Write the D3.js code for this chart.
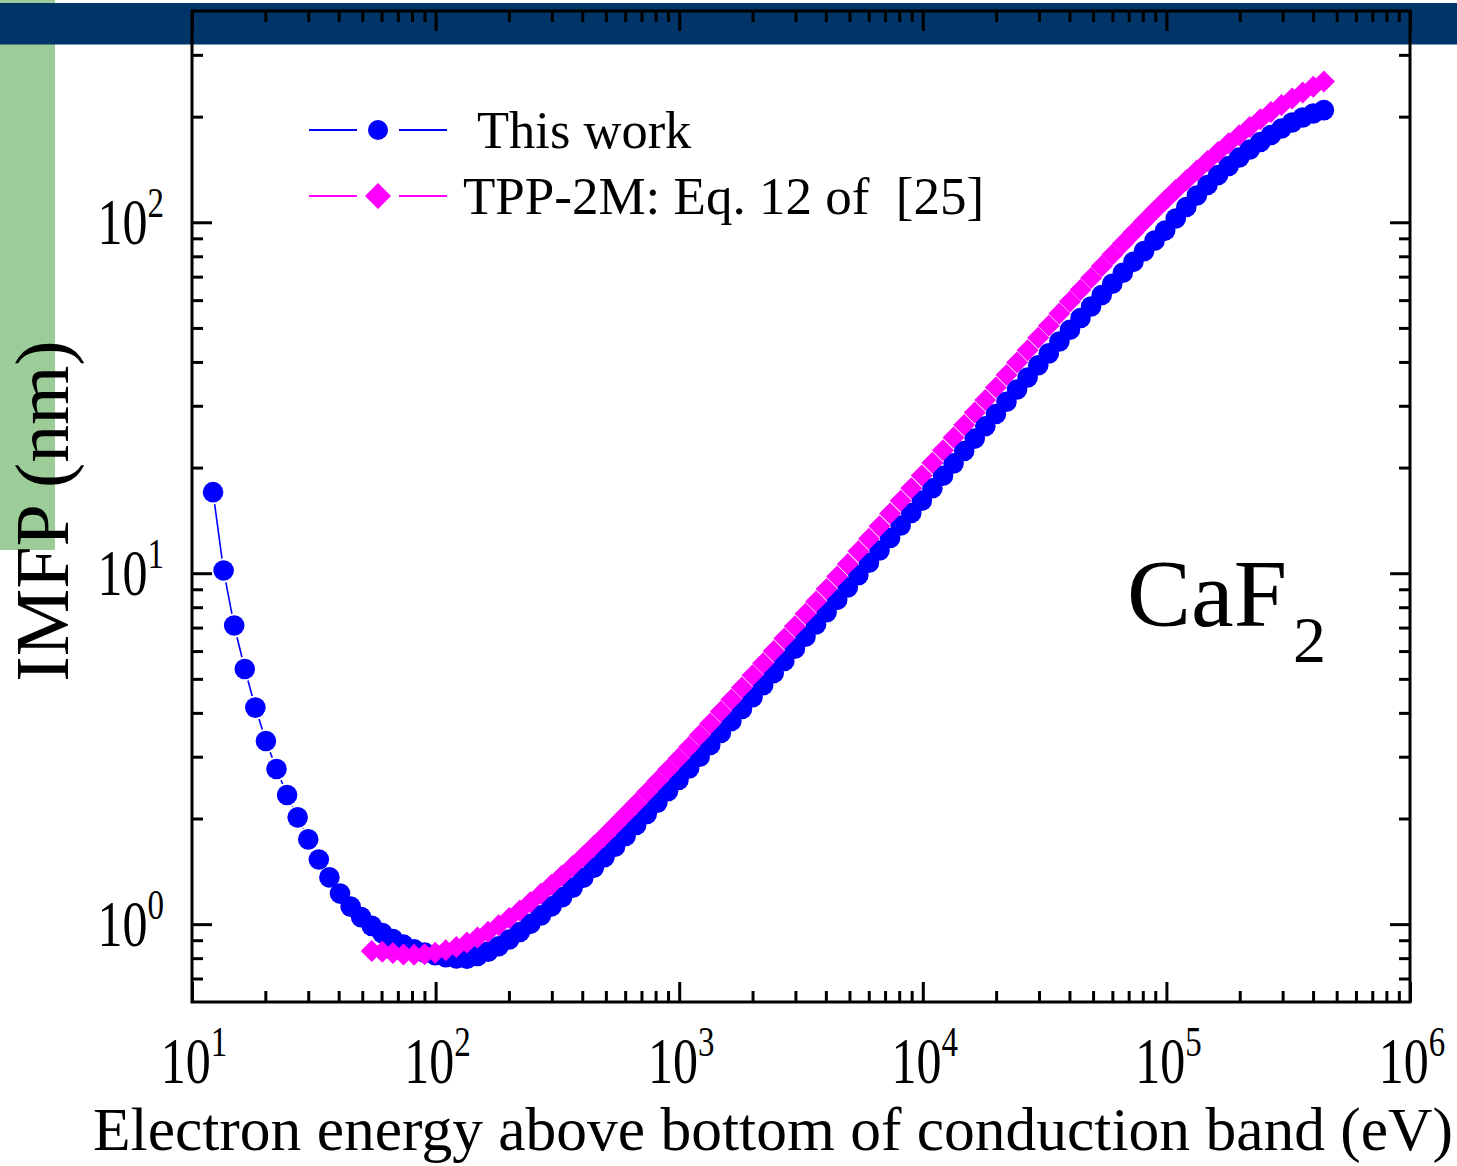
<!DOCTYPE html>
<html><head><meta charset="utf-8">
<script src="https://cdn.jsdelivr.net/npm/d3@7"></script>
<style>
body{margin:0;background:#fff}
svg{display:block}
text{font-family:"Liberation Serif","Times New Roman",serif;fill:#000}
</style>
</head><body>
<svg id="c" width="1457" height="1166"></svg>
<script>
// Electron energies (eV) of the plotted points
const energies = [12.2, 13.48, 14.9, 16.47, 18.2, 20.11, 22.23, 24.57, 27.15, 30.01,
 33.16, 36.65, 40.51, 44.77, 49.47, 54.68, 60.43, 66.78, 73.8, 81.56,
 90.15, 99.63, 110.1, 121.7, 134.5, 148.6, 164.2, 181.5, 200.6, 221.7,
 245, 270.8, 299.3, 330.7, 365.5, 404, 446.5, 493.4, 545.3, 602.7,
 666.1, 736.1, 813.5, 899.1, 993.6, 1098, 1214, 1341, 1482, 1638,
 1810, 2001, 2211, 2444, 2701, 2985, 3299, 3646, 4029, 4453,
 4921, 5439, 6011, 6643, 7342, 8114, 8967, 9910, 10952, 12104,
 13377, 14784, 16339, 18057, 19956, 22055, 24375, 26938, 29771, 32902,
 36363, 40187, 44413, 49084, 54246, 59951, 66256, 73224, 80925, 89436,
 98842, 109237, 120726, 133422, 147454, 162962, 180101, 199042, 219975, 243110,
 268677, 296934, 328163, 362676, 400818, 442972];

// IMFP (nm), "This work"
const thisWork = [17.02, 10.18, 7.093, 5.336, 4.140, 3.326, 2.767, 2.333, 2.015, 1.744,
 1.529, 1.359, 1.222, 1.122, 1.047, 0.9889, 0.9426, 0.9063, 0.8740, 0.8485,
 0.8294, 0.8159, 0.8052, 0.7984, 0.7973, 0.8112, 0.8348, 0.8651, 0.9039, 0.9500,
 1.002, 1.059, 1.124, 1.194, 1.271, 1.356, 1.449, 1.551, 1.663, 1.784,
 1.917, 2.062, 2.220, 2.392, 2.575, 2.778, 3.001, 3.241, 3.504, 3.790,
 4.102, 4.436, 4.798, 5.193, 5.622, 6.089, 6.596, 7.147, 7.746, 8.397,
 9.103, 9.877, 10.71, 11.61, 12.60, 13.67, 14.84, 16.10, 17.47, 18.95,
 20.56, 22.30, 24.19, 26.22, 28.43, 30.81, 33.37, 36.13, 39.12, 42.31,
 45.74, 49.42, 53.36, 57.55, 62.03, 66.78, 71.81, 77.14, 82.76, 88.65,
 94.70, 102.5, 110.5, 119.2, 127.7, 136.3, 144.7, 153.0, 161.2, 169.3,
 177.3, 185.1, 192.5, 198.9, 204.2, 208.7];

// IMFP (nm), TPP-2M (starts at the 16th energy, 54.68 eV)
const tppEnergies = energies.slice(15);
const tpp2m = [0.838, 0.834, 0.827, 0.820, 0.818, 0.821, 0.829, 0.842, 0.861, 0.886,
 0.916, 0.952, 0.993, 1.041, 1.094, 1.154, 1.220, 1.294, 1.375, 1.464,
 1.562, 1.669, 1.786, 1.915, 2.055, 2.208, 2.375, 2.557, 2.755, 2.965,
 3.199, 3.456, 3.732, 4.035, 4.365, 4.724, 5.116, 5.541, 6.006, 6.511,
 7.061, 7.660, 8.311, 9.020, 9.792, 10.63, 11.55, 12.54, 13.62, 14.80,
 16.08, 17.47, 18.99, 20.63, 22.41, 24.35, 26.44, 28.72, 31.18, 33.85,
 36.74, 39.85, 43.21, 46.84, 50.74, 54.93, 59.43, 64.25, 69.40, 74.90,
 80.75, 86.96, 93.54, 100.5, 107.8, 115.5, 123.5, 131.8, 140.4, 149.4,
 158.5, 167.9, 177.1, 187.0, 196.6, 206.2, 215.8, 225.2, 234.4, 243.3, 251.9];

const xTickExps = [1, 2, 3, 4, 5, 6];
const yTickExps = [0, 1, 2];
const seriesNames = ["This work", "TPP-2M: Eq. 12 of  [25]"];
const xTitle = "Electron energy above bottom of conduction band (eV)";
const yTitle = "IMFP (nm)";

const svg = d3.select("#c");
const L = 192, R = 1410, T = 11, B = 1002;

// decorative background
svg.append("rect").attr("x",0).attr("y",0).attr("width",55).attr("height",550).attr("fill","#9ccd98");
svg.append("rect").attr("x",0).attr("y",3).attr("width",1457).attr("height",41.5).attr("fill","#013467");

const x = d3.scaleLog().domain([10, 1e6]).range([L, R]);
const y = d3.scaleLog().domain([0.6, 400]).range([B, T]);

const xMajor = xTickExps.map(e => Math.pow(10, e));
const xMinor = [];
for (let d = 1; d <= 5; d++) for (let k = 2; k <= 9; k++) xMinor.push(k * Math.pow(10, d));
const yMajor = yTickExps.map(e => Math.pow(10, e));
const yMinor = [0.7, 0.8, 0.9, 2, 3, 4, 5, 6, 7, 8, 9, 20, 30, 40, 50, 60, 70, 80, 90, 200, 300];

function styleAxis(g){
  g.select(".domain").remove();
  g.selectAll(".tick line").attr("stroke","#000").attr("stroke-width",3);
  g.selectAll(".tick text").remove();
}
const MAJ = 20, MIN = 11;
[[d3.axisBottom, B, xMajor, MAJ],[d3.axisBottom, B, xMinor, MIN],
 [d3.axisTop, T, xMajor, MAJ],[d3.axisTop, T, xMinor, MIN]].forEach(([ax, pos, vals, len]) => {
  svg.append("g").attr("transform", `translate(0,${pos})`)
    .call(ax(x).tickValues(vals).tickSizeInner(-len).tickSizeOuter(0).tickFormat(""))
    .call(styleAxis);
});
[[d3.axisLeft, L, yMajor, MAJ],[d3.axisLeft, L, yMinor, MIN],
 [d3.axisRight, R, yMajor, MAJ],[d3.axisRight, R, yMinor, MIN]].forEach(([ax, pos, vals, len]) => {
  svg.append("g").attr("transform", `translate(${pos},0)`)
    .call(ax(y).tickValues(vals).tickSizeInner(-len).tickSizeOuter(0).tickFormat(""))
    .call(styleAxis);
});
svg.append("rect").attr("x",L).attr("y",T).attr("width",R-L).attr("height",B-T)
  .attr("fill","none").attr("stroke","#000").attr("stroke-width",3);

// tick labels (glyphs slightly tall, as in the original figure)
function powLabel(px, py, anchor, e){
  const t = svg.append("text").attr("transform", `translate(${px},${py}) scale(1,1.3)`)
    .attr("text-anchor", anchor).attr("font-size", 50);
  t.append("tspan").text("10");
  t.append("tspan").attr("font-size", 33).attr("dy", -21).text(e);
}
xTickExps.forEach(e => powLabel(x(Math.pow(10,e)) + 2, 1083, "middle", e));
yTickExps.forEach(e => powLabel(164, y(Math.pow(10,e)) + 22, "end", e));

// axis titles
svg.append("text").attr("x", 773).attr("y", 1150).attr("text-anchor","middle")
  .attr("font-size",61.5).text(xTitle);
svg.append("text").attr("transform","translate(68,511) rotate(-90)").attr("text-anchor","middle")
  .attr("font-size",76).text(yTitle);

// CaF2 label
const cf = svg.append("text").attr("x",1127).attr("y",626).attr("font-size",96);
cf.append("tspan").text("CaF");
cf.append("tspan").attr("font-size",66).attr("dx",6).attr("dy",36).text("2");

// connecting line with gaps around symbols
function gappedLine(pts, gap, color){
  const g = svg.append("g");
  for (let i = 0; i < pts.length - 1; i++){
    const [x1,y1] = pts[i], [x2,y2] = pts[i+1];
    const dx = x2-x1, dy = y2-y1, d = Math.hypot(dx,dy);
    if (d <= 2*gap) continue;
    const ux = dx/d, uy = dy/d;
    g.append("line").attr("x1",x1+ux*gap).attr("y1",y1+uy*gap)
      .attr("x2",x2-ux*gap).attr("y2",y2-uy*gap)
      .attr("stroke",color).attr("stroke-width",1.6);
  }
}

const bluePts = energies.map((e,i) => [x(e), y(thisWork[i])]);
const magPts = tppEnergies.map((e,i) => [x(e), y(tpp2m[i])]);

gappedLine(bluePts, 12, "#0000ff");
svg.append("g").selectAll("circle").data(bluePts).join("circle")
  .attr("cx", d => d[0]).attr("cy", d => d[1]).attr("r", 10.3).attr("fill", "#0000ff");

gappedLine(magPts, 13, "#ff00ff");
const diamond = d3.symbol().type(d3.symbolSquare).size(242);
svg.append("g").selectAll("path").data(magPts).join("path")
  .attr("d", diamond).attr("fill", "#ff00ff")
  .attr("transform", d => `translate(${d[0]},${d[1]}) rotate(45)`);

// legend
const lg = svg.append("g");
[["#0000ff",130],["#ff00ff",196]].forEach(([c,yy],k) => {
  lg.append("line").attr("x1",309).attr("x2",357).attr("y1",yy).attr("y2",yy).attr("stroke",c).attr("stroke-width",1.8);
  lg.append("line").attr("x1",399).attr("x2",447).attr("y1",yy).attr("y2",yy).attr("stroke",c).attr("stroke-width",1.8);
  if (k === 0) lg.append("circle").attr("cx",378).attr("cy",yy).attr("r",10).attr("fill",c);
  else lg.append("path").attr("d", d3.symbol().type(d3.symbolSquare).size(338)()).attr("fill",c)
        .attr("transform",`translate(378,${yy}) rotate(45)`);
});
lg.append("text").attr("x",477).attr("y",148).attr("font-size",52.5).text(seriesNames[0]);
lg.append("text").attr("x",463).attr("y",214).attr("font-size",53).style("white-space","pre").text(seriesNames[1]);
</script>
</body></html>
